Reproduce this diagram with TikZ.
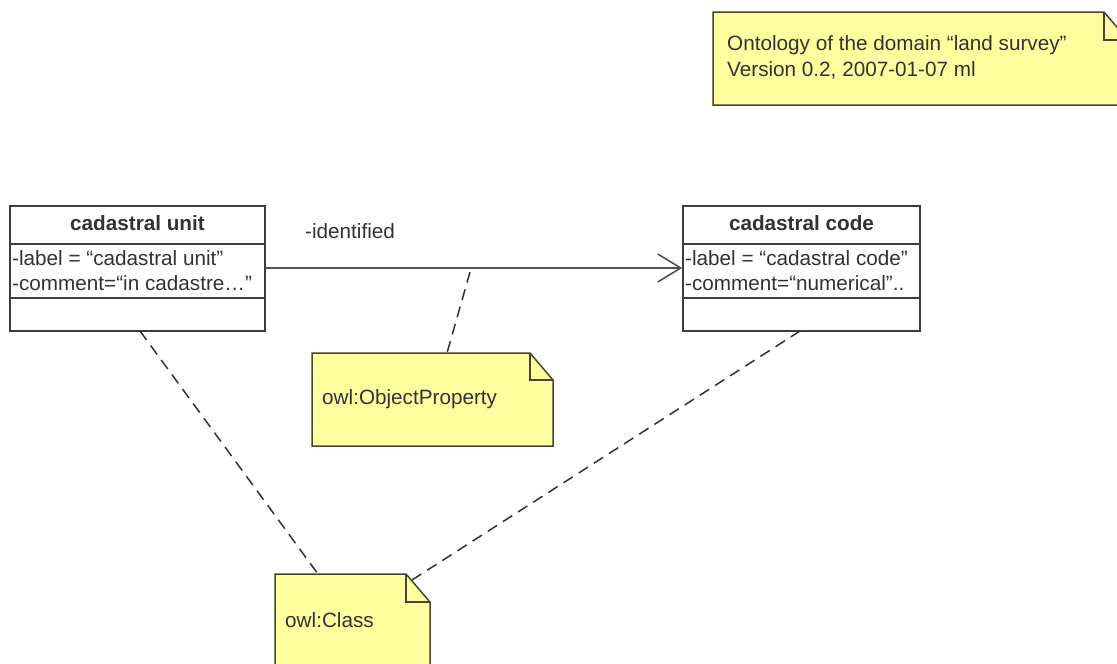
\documentclass[tikz,border=0pt]{standalone}
\usepackage{fontspec}
\setmainfont{Liberation Sans}
\usetikzlibrary{arrows.meta}
\definecolor{notefill}{RGB}{255,255,160}
\definecolor{noteline}{RGB}{70,70,50}
\definecolor{ink}{RGB}{50,50,50}
\definecolor{boxline}{RGB}{60,60,60}
\tikzset{
  txt/.style={inner sep=0pt, text=ink, font=\fontsize{20.7}{25}\selectfont, anchor=west},
  hdr/.style={inner sep=0pt, text=ink, font=\fontsize{20.7}{25}\selectfont\bfseries},
  classbox/.style={draw=boxline, line width=1.5pt, fill=white, inner sep=0pt},
  divider/.style={draw=boxline, line width=1.5pt},
  notebody/.style={draw=noteline, fill=notefill, line width=1.5pt, line join=miter},
  notefold/.style={draw=noteline, line width=1.5pt},
  dashlink/.style={draw=ink, line width=1.5pt, dash pattern=on 11pt off 7pt},
  assoc/.style={draw=ink!85, line width=2pt, -{Straight Barb[length=23pt,width=28pt,line width=1.6pt]}}
}
\begin{document}
\begin{tikzpicture}[x=1pt,y=-1pt]
\useasboundingbox (0,0) rectangle (1117,664);
\clip (0,0) rectangle (1117,664);
\fill[white] (0,0) rectangle (1117,664);

% ---- Top note ----
\path[notebody] (713,12) -- (1104,12) -- (1128,40) -- (1128,105) -- (713,105) -- cycle;
\path[notefold] (1104,12) -- (1104,40) -- (1128,40);
\node[txt] (t1) at (727,45) {Ontology of the domain “land survey”};
\node[txt] (t2) at (727,70) {Version 0.2, 2007-01-07 ml};

% ---- cadastral unit ----
\node[classbox, minimum width=255pt, minimum height=125pt] (cu) at (137.5,268.5) {};
\draw[divider] (10,244) -- (265,244);
\draw[divider] (10,298) -- (265,298);
\node[hdr] (cuh) at (137.5,223) {cadastral unit};
\node[txt] (cua) at (12,258) {-label = “cadastral unit”};
\node[txt] (cub) at (12,283) {-comment=“in cadastre…”};

% ---- cadastral code ----
\node[classbox, minimum width=237pt, minimum height=125pt] (cc) at (801.5,268.5) {};
\draw[divider] (683,244) -- (920,244);
\draw[divider] (683,298) -- (920,298);
\node[hdr] (cch) at (801.5,223) {cadastral code};
\node[txt] (cca) at (685,258) {-label = “cadastral code”};
\node[txt] (ccb) at (685,283) {-comment=“numerical”..};

% ---- association ----
\coordinate (as) at (cu.east |- 0,268);
\coordinate (ae) at (cc.west |- 0,268);
\draw[assoc] (as) -- (ae);
\node[txt] (ident) at (305,231) {-identified};

% ---- owl:ObjectProperty note ----
\path[notebody] (312,353) -- (530,353) -- (553,380) -- (553,446) -- (312,446) -- cycle;
\path[notefold] (530,353) -- (530,380) -- (553,380);
\node[txt] (op) at (322,399) {owl:ObjectProperty};
\coordinate (opt) at (447,353);
\coordinate (onarrow) at (470,272);
\draw[dashlink] (onarrow) -- (opt);

% ---- owl:Class note ----
\path[notebody] (275,574) -- (406,574) -- (430,602) -- (430,680) -- (275,680) -- cycle;
\path[notefold] (406,574) -- (406,602) -- (430,602);
\node[txt] (oc) at (285,620) {owl:Class};
\coordinate (oct) at (318,574);
\coordinate (ocf) at (412,580);

\coordinate (cub0) at (140,331);
\coordinate (ccb0) at (800,331);
\draw[dashlink] (cub0) -- (oct);
\draw[dashlink] (ccb0) -- (ocf);
\end{tikzpicture}
\end{document}
